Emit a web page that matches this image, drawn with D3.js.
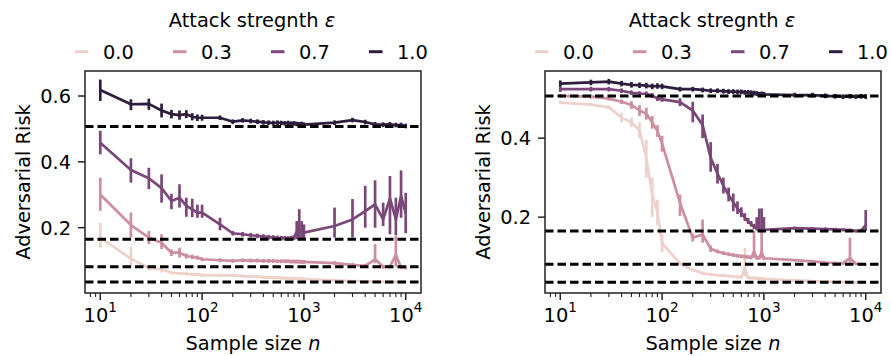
<!DOCTYPE html>
<html>
<head>
<meta charset="utf-8">
<script src="https://cdn.jsdelivr.net/npm/d3@7"></script>
<style>
  body { margin: 0; background: #fff; }
  svg { display: block; font-family: "DejaVu Sans", sans-serif; }
</style>
</head>
<body>
<svg id="chart" width="891" height="356"></svg>
<script>
// sample sizes on the x axis
const sampleSizes = [10, 20, 30, 40, 50, 60, 70, 80, 90, 100, 150, 200, 250, 300, 350, 400, 450, 500, 550, 600,
  650, 700, 750, 800, 850, 900, 950, 1000, 2000, 3000, 4000, 5000, 6000, 7000, 8000, 9000, 10000];

const epsilons = [0.0, 0.3, 0.7, 1.0];
const legendLabels = ['0.0', '0.3', '0.7', '1.0'];
const bayesRisk = [0.035, 0.081, 0.165, 0.507];
const xTicks = [10, 100, 1000, 10000];
const yTicksLeft = [0.2, 0.4, 0.6];
const yTicksRight = [0.2, 0.4];

// left panel
const leftMean00 = [0.170, 0.106, 0.077, 0.074, 0.063, 0.061, 0.060, 0.058, 0.058, 0.056, 0.055, 0.055, 0.053, 0.052, 0.051, 0.050, 0.049, 0.048, 0.048, 0.047, 0.047, 0.046, 0.046, 0.045, 0.045, 0.044, 0.044, 0.044, 0.040, 0.038, 0.037, 0.036, 0.036, 0.035, 0.035, 0.035, 0.035];
const leftLow00 = [0.139, 0.080, 0.069, 0.064, 0.058, 0.056, 0.055, 0.053, 0.053, 0.051, 0.050, 0.050, 0.048, 0.047, 0.046, 0.045, 0.044, 0.043, 0.043, 0.042, 0.042, 0.041, 0.041, 0.040, 0.040, 0.039, 0.039, 0.039, 0.038, 0.036, 0.035, 0.034, 0.034, 0.033, 0.033, 0.033, 0.033];
const leftHigh00 = [0.215, 0.140, 0.085, 0.084, 0.068, 0.066, 0.065, 0.063, 0.063, 0.061, 0.060, 0.060, 0.058, 0.057, 0.056, 0.055, 0.054, 0.053, 0.053, 0.052, 0.052, 0.051, 0.051, 0.050, 0.050, 0.049, 0.049, 0.049, 0.042, 0.040, 0.039, 0.038, 0.038, 0.037, 0.037, 0.037, 0.037];

const leftMean03 = [0.301, 0.208, 0.170, 0.154, 0.124, 0.124, 0.114, 0.111, 0.109, 0.104, 0.101, 0.099, 0.101, 0.100, 0.100, 0.099, 0.099, 0.099, 0.098, 0.098, 0.098, 0.098, 0.097, 0.097, 0.097, 0.097, 0.096, 0.096, 0.092, 0.087, 0.084, 0.104, 0.081, 0.082, 0.117, 0.080, 0.079];
const leftLow03 = [0.251, 0.170, 0.150, 0.135, 0.114, 0.109, 0.106, 0.104, 0.103, 0.098, 0.095, 0.093, 0.095, 0.094, 0.094, 0.093, 0.093, 0.093, 0.092, 0.092, 0.092, 0.092, 0.091, 0.091, 0.091, 0.091, 0.090, 0.090, 0.086, 0.081, 0.078, 0.092, 0.075, 0.076, 0.082, 0.074, 0.073];
const leftHigh03 = [0.352, 0.246, 0.190, 0.180, 0.134, 0.139, 0.122, 0.118, 0.115, 0.110, 0.107, 0.105, 0.107, 0.106, 0.106, 0.105, 0.105, 0.105, 0.104, 0.104, 0.104, 0.104, 0.103, 0.103, 0.103, 0.103, 0.102, 0.102, 0.098, 0.093, 0.090, 0.150, 0.087, 0.088, 0.175, 0.086, 0.085];

const leftMean07 = [0.458, 0.375, 0.350, 0.320, 0.281, 0.291, 0.266, 0.256, 0.246, 0.246, 0.210, 0.183, 0.180, 0.177, 0.175, 0.173, 0.171, 0.170, 0.169, 0.168, 0.168, 0.167, 0.168, 0.170, 0.188, 0.195, 0.188, 0.185, 0.205, 0.225, 0.250, 0.271, 0.225, 0.289, 0.225, 0.296, 0.244];
const leftLow07 = [0.423, 0.337, 0.317, 0.276, 0.256, 0.261, 0.233, 0.232, 0.230, 0.230, 0.192, 0.176, 0.173, 0.170, 0.168, 0.166, 0.164, 0.163, 0.162, 0.161, 0.161, 0.160, 0.161, 0.163, 0.165, 0.165, 0.165, 0.166, 0.170, 0.170, 0.200, 0.200, 0.205, 0.180, 0.177, 0.230, 0.183];
const leftHigh07 = [0.494, 0.411, 0.382, 0.362, 0.303, 0.332, 0.291, 0.288, 0.270, 0.270, 0.230, 0.190, 0.187, 0.184, 0.182, 0.180, 0.178, 0.177, 0.176, 0.175, 0.175, 0.174, 0.175, 0.177, 0.220, 0.256, 0.220, 0.210, 0.261, 0.287, 0.327, 0.344, 0.276, 0.357, 0.291, 0.374, 0.306];

const leftMean10 = [0.618, 0.575, 0.576, 0.556, 0.545, 0.542, 0.545, 0.537, 0.534, 0.534, 0.534, 0.522, 0.526, 0.524, 0.522, 0.520, 0.519, 0.518, 0.519, 0.518, 0.517, 0.518, 0.516, 0.517, 0.515, 0.514, 0.515, 0.513, 0.519, 0.527, 0.521, 0.514, 0.513, 0.514, 0.512, 0.512, 0.509];
const leftLow10 = [0.585, 0.557, 0.558, 0.535, 0.532, 0.528, 0.533, 0.526, 0.524, 0.525, 0.527, 0.515, 0.519, 0.517, 0.515, 0.513, 0.512, 0.511, 0.512, 0.511, 0.510, 0.511, 0.509, 0.510, 0.508, 0.507, 0.508, 0.506, 0.512, 0.520, 0.514, 0.507, 0.506, 0.507, 0.505, 0.505, 0.502];
const leftHigh10 = [0.650, 0.590, 0.592, 0.577, 0.558, 0.556, 0.557, 0.548, 0.544, 0.543, 0.541, 0.529, 0.533, 0.531, 0.529, 0.527, 0.526, 0.525, 0.526, 0.525, 0.524, 0.525, 0.523, 0.524, 0.522, 0.521, 0.522, 0.520, 0.526, 0.534, 0.528, 0.521, 0.520, 0.521, 0.519, 0.519, 0.516];

// right panel
const rightMean00 = [0.490, 0.485, 0.478, 0.452, 0.440, 0.420, 0.350, 0.257, 0.212, 0.134, 0.083, 0.066, 0.058, 0.055, 0.053, 0.052, 0.051, 0.050, 0.049, 0.048, 0.070, 0.047, 0.046, 0.046, 0.045, 0.045, 0.044, 0.044, 0.040, 0.038, 0.037, 0.036, 0.036, 0.035, 0.035, 0.035, 0.035];
const rightLow00 = [0.486, 0.481, 0.473, 0.440, 0.428, 0.400, 0.300, 0.200, 0.180, 0.112, 0.079, 0.062, 0.054, 0.051, 0.049, 0.048, 0.047, 0.046, 0.045, 0.044, 0.050, 0.043, 0.042, 0.042, 0.041, 0.041, 0.040, 0.040, 0.038, 0.036, 0.035, 0.034, 0.034, 0.033, 0.033, 0.033, 0.033];
const rightHigh00 = [0.494, 0.489, 0.483, 0.464, 0.452, 0.440, 0.396, 0.300, 0.244, 0.156, 0.087, 0.070, 0.062, 0.059, 0.057, 0.056, 0.055, 0.054, 0.053, 0.052, 0.122, 0.051, 0.050, 0.050, 0.049, 0.049, 0.048, 0.048, 0.042, 0.040, 0.039, 0.038, 0.038, 0.037, 0.037, 0.037, 0.037];

const rightMean03 = [0.507, 0.505, 0.500, 0.492, 0.484, 0.470, 0.462, 0.440, 0.418, 0.386, 0.236, 0.148, 0.156, 0.120, 0.113, 0.109, 0.106, 0.104, 0.102, 0.101, 0.100, 0.099, 0.098, 0.112, 0.097, 0.097, 0.112, 0.096, 0.091, 0.088, 0.085, 0.084, 0.083, 0.097, 0.082, 0.081, 0.080];
const rightLow03 = [0.502, 0.500, 0.495, 0.486, 0.474, 0.456, 0.447, 0.424, 0.403, 0.366, 0.203, 0.138, 0.135, 0.112, 0.108, 0.104, 0.101, 0.099, 0.097, 0.096, 0.095, 0.094, 0.093, 0.097, 0.092, 0.092, 0.096, 0.091, 0.088, 0.085, 0.082, 0.081, 0.080, 0.085, 0.079, 0.078, 0.077];
const rightHigh03 = [0.512, 0.510, 0.505, 0.498, 0.494, 0.484, 0.477, 0.456, 0.433, 0.406, 0.257, 0.158, 0.194, 0.128, 0.118, 0.114, 0.111, 0.109, 0.107, 0.106, 0.105, 0.104, 0.103, 0.165, 0.102, 0.102, 0.165, 0.101, 0.094, 0.091, 0.088, 0.087, 0.086, 0.148, 0.085, 0.084, 0.083];

const rightMean07 = [0.524, 0.524, 0.524, 0.520, 0.515, 0.513, 0.512, 0.508, 0.500, 0.498, 0.491, 0.470, 0.433, 0.350, 0.310, 0.280, 0.256, 0.238, 0.222, 0.211, 0.199, 0.190, 0.182, 0.176, 0.172, 0.170, 0.170, 0.168, 0.172, 0.171, 0.170, 0.169, 0.168, 0.167, 0.165, 0.166, 0.180];
const rightLow07 = [0.517, 0.518, 0.518, 0.514, 0.509, 0.507, 0.506, 0.502, 0.494, 0.492, 0.481, 0.440, 0.400, 0.315, 0.285, 0.260, 0.240, 0.215, 0.208, 0.200, 0.190, 0.183, 0.176, 0.170, 0.166, 0.165, 0.165, 0.165, 0.168, 0.167, 0.166, 0.165, 0.164, 0.163, 0.161, 0.162, 0.165];
const rightHigh07 = [0.531, 0.530, 0.530, 0.526, 0.521, 0.519, 0.518, 0.514, 0.506, 0.504, 0.501, 0.492, 0.460, 0.390, 0.335, 0.300, 0.275, 0.260, 0.240, 0.225, 0.210, 0.198, 0.190, 0.183, 0.200, 0.222, 0.222, 0.200, 0.176, 0.175, 0.174, 0.173, 0.172, 0.171, 0.169, 0.170, 0.218];

const rightMean10 = [0.538, 0.541, 0.543, 0.538, 0.535, 0.534, 0.533, 0.531, 0.532, 0.531, 0.524, 0.524, 0.522, 0.520, 0.520, 0.519, 0.518, 0.518, 0.517, 0.517, 0.516, 0.516, 0.515, 0.514, 0.513, 0.511, 0.512, 0.511, 0.509, 0.509, 0.507, 0.506, 0.505, 0.506, 0.505, 0.506, 0.505];
const rightLow10 = [0.530, 0.534, 0.536, 0.531, 0.528, 0.527, 0.526, 0.524, 0.525, 0.524, 0.518, 0.518, 0.516, 0.514, 0.514, 0.513, 0.512, 0.512, 0.511, 0.511, 0.510, 0.510, 0.509, 0.508, 0.507, 0.505, 0.506, 0.505, 0.503, 0.503, 0.501, 0.500, 0.499, 0.500, 0.499, 0.500, 0.499];
const rightHigh10 = [0.546, 0.548, 0.550, 0.545, 0.542, 0.541, 0.540, 0.538, 0.539, 0.538, 0.530, 0.530, 0.528, 0.526, 0.526, 0.525, 0.524, 0.524, 0.523, 0.523, 0.522, 0.522, 0.521, 0.520, 0.519, 0.517, 0.518, 0.517, 0.515, 0.515, 0.513, 0.512, 0.511, 0.512, 0.511, 0.512, 0.511];

// seaborn default cubehelix (start 0, rot .4, hue .8, light .85, dark .15)
function cubehelix(t) {
  const x = 0.85 + t * (0.15 - 0.85);
  const a = 0.8 * x * (1 - x) / 2;
  const phi = 2 * Math.PI * (0.4 * x);
  const c = Math.cos(phi), s = Math.sin(phi);
  const ch = (p0, p1) => Math.round(255 * Math.max(0, Math.min(1, x + a * (p0 * c + p1 * s))));
  return d3.rgb(ch(-0.14861, 1.78277), ch(-0.29227, -0.90649), ch(1.97294, 0)).formatHex();
}
const colors = epsilons.map(cubehelix);

function buildSeries(means, lows, highs) {
  return means.map((m, s) => ({
    eps: epsilons[s],
    points: sampleSizes.map((n, i) => ({ n: n, mean: m[i], lo: lows[s][i], hi: highs[s][i] })),
  }));
}

const panels = [
  {
    left: 85, right: 421, yDomain: [0.0015, 0.676], yTicks: yTicksLeft, ylabelX: 30,
    series: buildSeries([leftMean00, leftMean03, leftMean07, leftMean10],
      [leftLow00, leftLow03, leftLow07, leftLow10], [leftHigh00, leftHigh03, leftHigh07, leftHigh10]),
  },
  {
    left: 545, right: 881, yDomain: [0.008, 0.570], yTicks: yTicksRight, ylabelX: 490,
    series: buildSeries([rightMean00, rightMean03, rightMean07, rightMean10],
      [rightLow00, rightLow03, rightLow07, rightLow10], [rightHigh00, rightHigh03, rightHigh07, rightHigh10]),
  },
];

const plotTop = 71, plotBottom = 293;
const fontSize = 19.4;
const svg = d3.select('#chart');

panels.forEach((p) => {
  const xScale = d3.scaleLog().domain([Math.pow(10, 0.85), Math.pow(10, 4.15)]).range([p.left, p.right]);
  const yScale = d3.scaleLinear().domain(p.yDomain).range([plotBottom, plotTop]);
  const cx = (p.left + p.right) / 2;
  const grp = svg.append('g');

  // series lines and error bars
  const line = d3.line().x((d) => xScale(d.n)).y((d) => yScale(d.mean));
  p.series.forEach((s, k) => {
    grp.append('path')
      .datum(s.points)
      .attr('d', line)
      .attr('fill', 'none')
      .attr('stroke', colors[k])
      .attr('stroke-width', 2.7)
      .attr('stroke-linejoin', 'round');

    grp.selectAll(null)
      .data(s.points)
      .enter()
      .append('line')
      .attr('x1', (d) => xScale(d.n))
      .attr('x2', (d) => xScale(d.n))
      .attr('y1', (d) => yScale(d.lo))
      .attr('y2', (d) => yScale(d.hi))
      .attr('stroke', colors[k])
      .attr('stroke-width', 2.7);
  });

  // bayes risk dashed lines
  grp.selectAll(null)
    .data(bayesRisk)
    .enter()
    .append('line')
    .attr('x1', p.left)
    .attr('x2', p.right)
    .attr('y1', (d) => yScale(d))
    .attr('y2', (d) => yScale(d))
    .attr('stroke', '#000')
    .attr('stroke-width', 3)
    .attr('stroke-dasharray', '8.5,4');

  // frame
  grp.append('rect')
    .attr('x', p.left)
    .attr('y', plotTop)
    .attr('width', p.right - p.left)
    .attr('height', plotBottom - plotTop)
    .attr('fill', 'none')
    .attr('stroke', '#222')
    .attr('stroke-width', 1.5);

  // y ticks
  const yAxis = grp.append('g');
  p.yTicks.forEach((t) => {
    yAxis.append('line')
      .attr('x1', p.left - 7).attr('x2', p.left)
      .attr('y1', yScale(t)).attr('y2', yScale(t))
      .attr('stroke', '#222').attr('stroke-width', 1.5);
    yAxis.append('text')
      .attr('x', p.left - 14)
      .attr('y', yScale(t))
      .attr('dy', '0.36em')
      .attr('text-anchor', 'end')
      .attr('font-size', fontSize)
      .text(t.toFixed(1));
  });

  // x ticks, log major and minor
  const xAxis = grp.append('g');
  const [d0, d1] = xScale.domain();
  for (let k = 0; k <= 4; k++) {
    for (let m = 2; m <= 9; m++) {
      const v = m * Math.pow(10, k);
      if (v < d0 || v > d1) continue;
      xAxis.append('line')
        .attr('x1', xScale(v)).attr('x2', xScale(v))
        .attr('y1', plotBottom).attr('y2', plotBottom + 4)
        .attr('stroke', '#222').attr('stroke-width', 1.1);
    }
  }
  xTicks.forEach((t) => {
    xAxis.append('line')
      .attr('x1', xScale(t)).attr('x2', xScale(t))
      .attr('y1', plotBottom).attr('y2', plotBottom + 7)
      .attr('stroke', '#222').attr('stroke-width', 1.5);
    const label = xAxis.append('text')
      .attr('x', xScale(t))
      .attr('y', 321.5)
      .attr('text-anchor', 'middle')
      .attr('font-size', fontSize);
    label.append('tspan').text('10');
    label.append('tspan')
      .attr('dy', -10)
      .attr('font-size', fontSize * 0.7)
      .text(Math.round(Math.log10(t)));
  });

  // axis labels
  const xlabel = grp.append('text')
    .attr('x', cx)
    .attr('y', 350)
    .attr('text-anchor', 'middle')
    .attr('font-size', fontSize);
  xlabel.append('tspan').text('Sample size ');
  xlabel.append('tspan').attr('font-style', 'italic').text('n');

  grp.append('text')
    .attr('transform', `translate(${p.ylabelX},${(plotTop + plotBottom) / 2}) rotate(-90)`)
    .attr('text-anchor', 'middle')
    .attr('font-size', fontSize)
    .text('Adversarial Risk');

  // legend above the axes
  const title = grp.append('text')
    .attr('x', cx - 1)
    .attr('y', 26.5)
    .attr('text-anchor', 'middle')
    .attr('font-size', fontSize);
  title.append('tspan').text('Attack stregnth ');
  title.append('tspan').attr('font-style', 'italic').text('ε');

  legendLabels.forEach((lab, i) => {
    const hx = cx - 178 + 98 * i;
    grp.append('line')
      .attr('x1', hx).attr('x2', hx + 13.5)
      .attr('y1', 51.7).attr('y2', 51.7)
      .attr('stroke', colors[i])
      .attr('stroke-width', 3);
    grp.append('text')
      .attr('x', hx + 28)
      .attr('y', 59.3)
      .attr('font-size', fontSize)
      .text(lab);
  });
});
</script>
</body>
</html>
